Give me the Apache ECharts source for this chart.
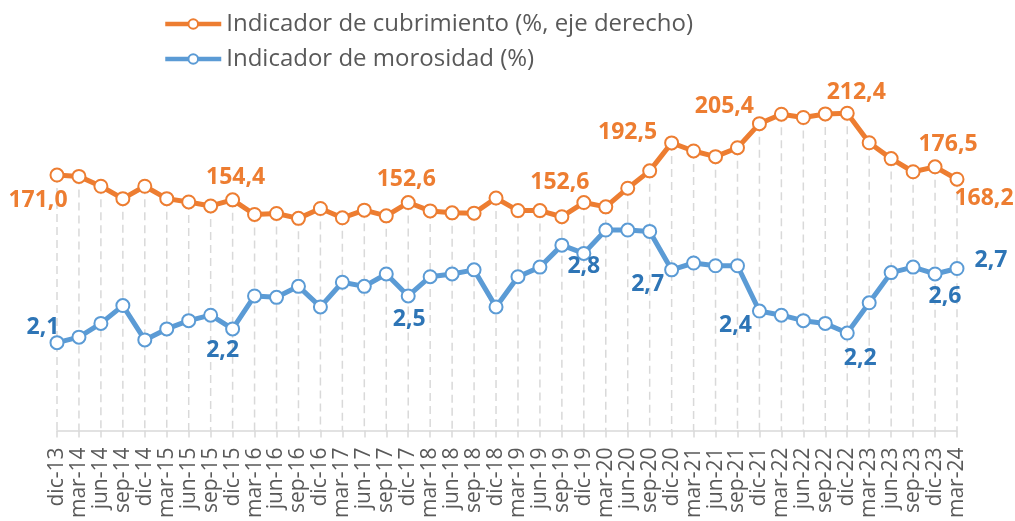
<!DOCTYPE html>
<html>
<head>
<meta charset="utf-8">
<script src="https://cdn.jsdelivr.net/npm/echarts@6/dist/echarts.min.js"></script>
<style>html,body{margin:0;padding:0;background:#fff;}#c{width:1015px;height:521px;}</style>
</head>
<body>
<div id="c"></div>
<script>
const categories = ['dic-13','mar-14','jun-14','sep-14','dic-14','mar-15','jun-15','sep-15','dic-15','mar-16','jun-16','sep-16','dic-16','mar-17','jun-17','sep-17','dic-17','mar-18','jun-18','sep-18','dic-18','mar-19','jun-19','sep-19','dic-19','mar-20','jun-20','sep-20','dic-20','mar-21','jun-21','sep-21','dic-21','mar-22','jun-22','sep-22','dic-22','mar-23','jun-23','sep-23','dic-23','mar-24'];
const cubrimiento = [171.0,170.1,163.5,155.2,163.5,155.2,153.0,150.3,154.4,144.6,145.3,142.0,148.6,142.4,147.5,143.7,152.6,147.0,145.7,145.5,155.6,147.2,147.2,143.1,152.6,149.7,162.2,173.8,192.5,187.1,183.3,189.3,205.4,211.7,209.5,211.9,212.4,192.6,182.0,173.2,176.5,168.2];
const morosidad = [2.14,2.18,2.28,2.41,2.16,2.24,2.30,2.34,2.24,2.48,2.47,2.55,2.40,2.58,2.55,2.64,2.48,2.62,2.64,2.67,2.40,2.62,2.69,2.85,2.79,2.96,2.96,2.95,2.67,2.72,2.70,2.70,2.37,2.34,2.30,2.28,2.21,2.43,2.65,2.69,2.64,2.68];
const seriesNames = ['Indicador de cubrimiento (%, eje derecho)', 'Indicador de morosidad (%)'];

// label placement (style): offsets from point centre
const orangeLabels = {0:[-19,25],8:[3,-22],16:[-2,-23],24:[-24,-20],28:[-44,-10],32:[-35,-17],36:[9,-21],40:[13,-22],41:[27,19]};
const blueLabels = {0:[-14,-15],8:[-10,22],16:[1,24],24:[0,13],28:[-24,15],32:[-24,14],36:[13,25],40:[10,22],41:[34,-8]};

const ORANGE = '#ED7D31', BLUE = '#5B9BD5', BLUE_TXT = '#2E75B6';
const FONT = 'Open Sans';
const fmt = v => Number(v).toFixed(1).replace('.', ',');

function build(values, labels, color) {
  return values.map((v, i) => {
    if (labels[i]) {
      return {value: v, label: {show: true, position: 'inside', offset: labels[i],
        formatter: p => fmt(p.value), color: color, fontFamily: FONT, fontWeight: 'bold', fontSize: 23,
        align: 'center', verticalAlign: 'middle'}};
    }
    return v;
  });
}

const chart = echarts.init(document.getElementById('c'), null, {renderer: 'canvas'});
chart.setOption({
  animation: false,
  backgroundColor: '#ffffff',
  textStyle: {fontFamily: FONT},
  legend: {
    data: seriesNames, orient: 'vertical', left: 158, top: 7,
    itemWidth: 56, itemHeight: 12, itemGap: 11,
    lineStyle: {width: 4.5},
    textStyle: {fontFamily: FONT, fontSize: 24, color: '#595959'}
  },
  grid: {left: 57, right: 58, top: 57, bottom: 85, containLabel: false},
  xAxis: {
    type: 'category', data: categories, boundaryGap: false,
    axisLine: {lineStyle: {color: '#d9d9d9', width: 1.5}},
    axisTick: {show: true, length: 7, alignWithLabel: true, interval: 0, lineStyle: {color: '#d9d9d9', width: 1.5}},
    axisLabel: {interval: 0, rotate: 90, margin: 17, fontFamily: FONT, fontSize: 21, color: '#595959'},
    splitLine: {show: false}
  },
  yAxis: [
    {type: 'value', min: 1.5, max: 4.22, show: false, splitLine: {show: false}},
    {type: 'value', min: 0, max: 250, show: false, splitLine: {show: false}}
  ],
  series: [
    {
      type: 'custom', yAxisIndex: 1, z: 1, silent: true,
      data: cubrimiento.map((v, i) => [i, v]),
      renderItem: (params, api) => {
        const top = api.coord([api.value(0), api.value(1)]);
        const bot = api.coord([api.value(0), 0]);
        return {type: 'line', shape: {x1: top[0], y1: top[1], x2: bot[0], y2: bot[1]},
          style: {stroke: '#d9d9d9', lineWidth: 1.5, lineDash: [8, 5]}};
      }
    },
    {
      name: seriesNames[0], type: 'line', yAxisIndex: 1, z: 3, color: ORANGE,
      data: build(cubrimiento, orangeLabels, ORANGE),
      symbol: 'circle', symbolSize: 13, showAllSymbol: true,
      lineStyle: {color: ORANGE, width: 5},
      itemStyle: {color: '#ffffff', borderColor: ORANGE, borderWidth: 2}
    },
    {
      name: seriesNames[1], type: 'line', yAxisIndex: 0, z: 3, color: BLUE,
      data: build(morosidad, blueLabels, BLUE_TXT),
      symbol: 'circle', symbolSize: 13, showAllSymbol: true,
      lineStyle: {color: BLUE, width: 5},
      itemStyle: {color: '#ffffff', borderColor: BLUE, borderWidth: 2}
    }
  ]
});
</script>
</body>
</html>
